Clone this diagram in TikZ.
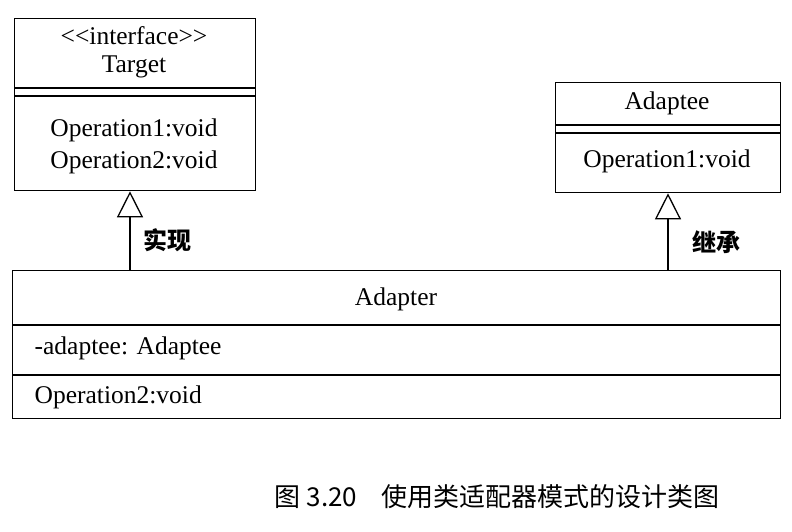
\documentclass[tikz,border=0pt]{standalone}
\usepackage{fontspec}
\setmainfont{Liberation Serif}
\newfontfamily\cjk{Noto Sans CJK SC}
\usetikzlibrary{positioning, arrows.meta}

\begin{document}
\begin{tikzpicture}[x=1pt, y=-1pt, line width=1.3pt,
    box/.style={draw, inner sep=0pt, anchor=north west},
    txt/.style={font=\fontsize{25.5}{30}\selectfont, inner sep=0pt},
    gen/.style={-{Triangle[open, length=26pt, width=26pt]}}]
    \useasboundingbox (0,0) rectangle (792,531);
    % Target
    \node[box, minimum width=241pt, minimum height=172pt] (target) at (14,18) {};
    \draw (14,88) -- (255,88) (14,96) -- (255,96);
    \node[txt] (tst) at (134,36) {{<}{<}interface{>}{>}};
    \node[txt] (tname) at (134,67) {Target};
    \node[txt] (top1) at (134,130) {Operation1:void};
    \node[txt] (top2) at (134,162) {Operation2:void};
    % Adaptee
    \node[box, minimum width=225pt, minimum height=110pt] (adaptee) at (555,82) {};
    \draw (555,125) -- (780,125) (555,133) -- (780,133);
    \node[txt] (aname) at (667,103) {Adaptee};
    \node[txt] (aop1) at (667,161) {Operation1:void};
    % Adapter
    \node[box, minimum width=768pt, minimum height=148pt] (adapter) at (12,270) {};
    \draw (12,325) -- (780,325) (12,375) -- (780,375);
    \node[txt] (dname) at (396,299) {Adapter};
    \node[txt, anchor=west] (dattr) at (34,348) {-adaptee: Adaptee};
    \node[txt, anchor=west] (dop2) at (34,397) {Operation2:void};
    % generalisations
    \draw[gen] (adapter.north -| 130,0) -- (target.south -| 130,0);
    \draw[gen] (adapter.north -| 668,0) -- (adaptee.south -| 668,0);
    \node[font=\cjk\bfseries\fontsize{24}{28}\selectfont] (impl) at (167,240) {实现};
    \node[font=\cjk\bfseries\fontsize{24}{28}\selectfont] (inh) at (716,242) {继承};
    % caption
    \node[font=\cjk\fontsize{26}{30}\selectfont] (cap) at (497,497) {图 3.20\hspace{24pt}使用类适配器模式的设计类图};
\end{tikzpicture}
\end{document}
